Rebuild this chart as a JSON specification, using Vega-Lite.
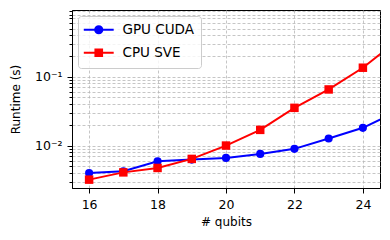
{
  "$schema": "https://vega.github.io/schema/vega-lite/v6.json",
  "width": 308,
  "height": 178,
  "autosize": "none",
  "padding": {"left": 72, "top": 10, "right": 10, "bottom": 52},
  "background": "white",
  "config": {
    "view": {"stroke": "black", "strokeWidth": 1},
    "font": "DejaVu Sans",
    "axis": {
      "domainColor": "black",
      "domainWidth": 1,
      "tickColor": "black",
      "tickWidth": 1,
      "tickSize": 5,
      "labelPadding": 5,
      "labelColor": "black",
      "labelFont": "DejaVu Sans",
      "labelFontSize": 12.5,
      "titleFont": "DejaVu Sans",
      "titleFontSize": 12,
      "titleFontWeight": "normal",
      "titleColor": "black",
      "grid": true,
      "gridColor": "#b8b8b8",
      "gridWidth": 0.8,
      "gridDash": [3, 2],
      "labelFlush": false,
      "labelOverlap": false
    }
  },
  "data": {
    "values": [
      {"qubits": 16, "series": "GPU CUDA", "runtime": 0.0040},
      {"qubits": 17, "series": "GPU CUDA", "runtime": 0.00423},
      {"qubits": 18, "series": "GPU CUDA", "runtime": 0.0059},
      {"qubits": 19, "series": "GPU CUDA", "runtime": 0.00625},
      {"qubits": 20, "series": "GPU CUDA", "runtime": 0.00662},
      {"qubits": 21, "series": "GPU CUDA", "runtime": 0.00757},
      {"qubits": 22, "series": "GPU CUDA", "runtime": 0.00896},
      {"qubits": 23, "series": "GPU CUDA", "runtime": 0.01265},
      {"qubits": 24, "series": "GPU CUDA", "runtime": 0.0181},
      {"qubits": 25, "series": "GPU CUDA", "runtime": 0.0315},
      {"qubits": 16, "series": "CPU SVE", "runtime": 0.0032},
      {"qubits": 17, "series": "CPU SVE", "runtime": 0.00408},
      {"qubits": 18, "series": "CPU SVE", "runtime": 0.00473},
      {"qubits": 19, "series": "CPU SVE", "runtime": 0.0064},
      {"qubits": 20, "series": "CPU SVE", "runtime": 0.0100},
      {"qubits": 21, "series": "CPU SVE", "runtime": 0.0169},
      {"qubits": 22, "series": "CPU SVE", "runtime": 0.0353},
      {"qubits": 23, "series": "CPU SVE", "runtime": 0.0653},
      {"qubits": 24, "series": "CPU SVE", "runtime": 0.135},
      {"qubits": 25, "series": "CPU SVE", "runtime": 0.33}
    ]
  },
  "encoding": {
    "x": {
      "field": "qubits",
      "type": "quantitative",
      "scale": {"domain": [15.5, 24.5], "nice": false, "zero": false},
      "axis": {"title": "# qubits", "values": [16, 18, 20, 22, 24], "titlePadding": 6}
    },
    "y": {
      "field": "runtime",
      "type": "quantitative",
      "scale": {"type": "log", "domain": [0.00242, 0.93], "nice": false},
      "axis": {
        "title": "Runtime (s)",
        "titlePadding": 12,
        "values": [0.003, 0.004, 0.005, 0.006, 0.007, 0.008, 0.009, 0.01, 0.02, 0.03, 0.04, 0.05, 0.06, 0.07, 0.08, 0.09, 0.1, 0.2, 0.3, 0.4, 0.5, 0.6, 0.7, 0.8, 0.9],
        "labelExpr": "datum.value == 0.01 ? '10⁻²' : (datum.value == 0.1 ? '10⁻¹' : '')",
        "tickSize": {"condition": {"test": "datum.value == 0.01 || datum.value == 0.1", "value": 5}, "value": 3}
      }
    },
    "color": {
      "field": "series",
      "type": "nominal",
      "scale": {"domain": ["GPU CUDA", "CPU SVE"], "range": ["#0000ff", "#ff0000"]},
      "legend": {
        "title": null,
        "orient": "top-left",
        "offset": 6,
        "padding": 7,
        "fillColor": "rgba(255,255,255,0.8)",
        "strokeColor": "#cccccc",
        "cornerRadius": 3,
        "labelFont": "DejaVu Sans",
        "labelFontSize": 13.5,
        "labelColor": "black",
        "rowPadding": 7,
        "symbolSize": 69,
        "symbolStrokeWidth": 2,
        "symbolOffset": 7,
        "labelOffset": 17,
        "encode": {
          "symbols": {
            "update": {
              "shape": {"signal": "datum.value === 'GPU CUDA' ? 'M-3.6,0H3.6M0.87,0A0.87,0.87,0,1,1,-0.87,0A0.87,0.87,0,1,1,0.87,0Z' : 'M-3.6,0H3.6M-0.8,-0.8H0.8V0.8H-0.8Z'"},
              "fill": {"scale": "color", "field": "value"},
              "stroke": {"scale": "color", "field": "value"},
              "strokeWidth": {"value": 2},
              "size": {"value": 69},
              "opacity": {"value": 1}
            }
          }
        }
      }
    }
  },
  "layer": [
    {
      "transform": [{"filter": "datum.series == 'GPU CUDA'"}],
      "mark": {"type": "line", "strokeWidth": 2, "clip": true}
    },
    {
      "transform": [{"filter": "datum.series == 'GPU CUDA'"}],
      "mark": {"type": "circle", "size": 66, "opacity": 1, "clip": true}
    },
    {
      "transform": [{"filter": "datum.series == 'CPU SVE'"}],
      "mark": {"type": "line", "strokeWidth": 2, "clip": true}
    },
    {
      "transform": [{"filter": "datum.series == 'CPU SVE'"}],
      "mark": {"type": "square", "size": 72, "opacity": 1, "clip": true}
    }
  ]
}
